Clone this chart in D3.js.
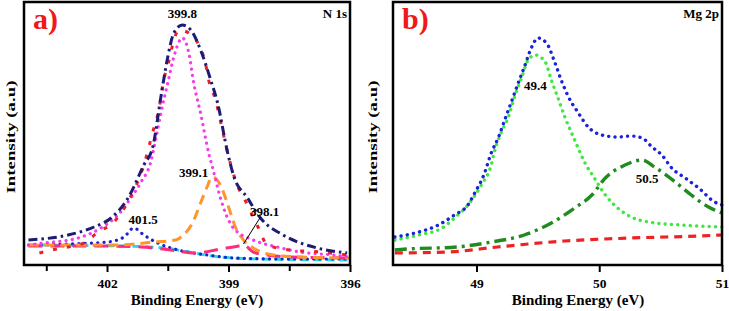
<!DOCTYPE html>
<html>
<head>
<meta charset="utf-8">
<script src="https://cdn.jsdelivr.net/npm/d3@7"></script>
<style>
  body { margin: 0; background: #fff; }
  svg { display: block; font-family: "Liberation Serif", "Times New Roman", serif; font-weight: bold; }
</style>
</head>
<body>
<svg id="chart" width="729" height="311"></svg>
<script>
// ---- a) N 1s : [binding energy (eV), intensity (a.u.)] ----
const n1sRaw = [[403.67,12],[403.25,16],[402.57,22],[402.22,33],[401.83,43],[401.46,65],[401.09,100],[400.87,133],[400.72,155],[400.60,185],[400.48,203],[400.38,220],[400.23,235],[399.98,232],[399.71,218],[399.57,202],[399.49,185],[399.32,165],[399.15,135],[399.02,112],[398.83,85],[398.53,60],[398.26,37],[398.04,20],[397.48,15],[396.74,13],[396.07,10]];
const n1sEnvelope = [[403.94,25],[402.96,30],[402.32,38],[401.90,47],[401.48,67],[401.09,100],[400.87,118],[400.67,168],[400.50,208],[400.35,232],[400.14,240],[399.93,235],[399.69,215],[399.44,185],[399.27,162],[399.02,112],[398.88,90],[398.53,67],[398.21,47],[397.65,30],[396.81,17],[396.07,12]];
const n1sPeak3998 = [[403.94,20],[403.55,22],[402.71,27],[402.15,37],[401.73,50],[401.41,67],[401.16,83],[400.92,103],[400.80,125],[400.67,152],[400.50,182],[400.35,208],[400.14,227],[399.98,212],[399.86,182],[399.69,152],[399.49,112],[399.39,97],[399.20,67],[398.88,37],[398.39,25],[397.80,18],[397.23,13],[396.42,10],[396.00,8]];
const n1sPeak3991 = [[403.94,20],[402.96,20],[401.73,20],[400.84,23],[400.30,25],[400.11,30],[399.89,42],[399.69,62],[399.54,77],[399.40,88],[399.20,80],[399.00,58],[398.83,38],[398.63,25],[398.39,17],[397.89,10],[397.23,8],[396.00,7]];
const n1sPeak4015 = [[403.94,20],[402.96,21],[401.98,23],[401.58,28],[401.34,37],[401.09,30],[400.75,22],[400.25,15],[399.52,10],[398.88,7],[397.65,6],[396.00,6]];
const n1sBackground = [[403.94,20],[401.66,19],[400.92,18],[400.43,16],[399.86,12],[399.20,8],[398.21,6],[396.00,5]];
const n1sPeak3981 = [[403.94,19],[402.15,19],[401.16,18],[400.43,15],[399.81,12],[399.20,16],[398.75,19],[398.63,20],[398.39,13],[398.04,10],[397.48,8],[396.00,7]];
const n1sTicks = [402, 399, 396];
const n1sMinorTicks = [403.5, 400.5, 397.5];
const n1sLabels = [["399.8",400.14,247],["399.1",399.86,88.5],["401.5",401.11,41],["398.1",398.11,49.5]];

// ---- b) Mg 2p ----
const mgEnvelope = [[48.335,28],[48.50,32],[48.69,40],[48.82,50],[48.93,60],[48.99,73],[49.06,90],[49.12,112],[49.18,128],[49.23,145],[49.29,165],[49.34,182],[49.39,198],[49.45,218],[49.50,227],[49.57,222],[49.64,202],[49.69,185],[49.75,168],[49.83,152],[49.91,138],[50.02,130],[50.15,128],[50.26,129],[50.35,127],[50.43,118],[50.51,110],[50.59,97],[50.70,87],[50.81,77],[50.94,63],[51.00,60]];
const mgPeak494 = [[48.335,25],[48.53,30],[48.72,37],[48.82,47],[48.93,60],[49.04,80],[49.12,100],[49.15,115],[49.20,132],[49.26,148],[49.31,168],[49.37,188],[49.42,205],[49.48,210],[49.56,203],[49.61,185],[49.67,165],[49.72,148],[49.80,125],[49.88,103],[49.96,87],[50.05,70],[50.15,57],[50.26,48],[50.40,43],[50.67,40],[51.00,38]];
const mgPeak505 = [[48.335,15],[48.44,16],[48.84,18],[49.12,23],[49.39,30],[49.61,42],[49.80,57],[49.94,70],[50.05,87],[50.21,100],[50.35,105],[50.45,98],[50.62,83],[50.75,70],[50.89,58],[51.00,52]];
const mgBackground = [[48.335,12],[48.77,13],[49.17,18],[49.72,24],[50.26,27],[50.81,29],[51.00,30]];
const mgTicks = [49, 50, 51];
const mgLabels = [["49.4",49.48,175.5],["50.5",50.39,82.5]];

const svg = d3.select("#chart");
const dot = "0.1,6.2";

function drawPanel(p) {
  const x = d3.scaleLinear().domain(p.xDomain).range([p.left, p.right]);
  const y = d3.scaleLinear().domain([0, 263]).range([265, 2]);
  const g = svg.append("g");

  const line = d3.line()
    .x(d => x(d[0]))
    .y(d => y(d[1]))
    .curve(d3.curveMonotoneX);

  p.series.forEach(s => {
    g.append("path")
      .attr("d", line(s.data))
      .attr("fill", "none")
      .attr("stroke", s.color)
      .attr("stroke-width", s.width)
      .attr("stroke-dasharray", s.dash)
      .attr("stroke-linecap", s.dash === dot ? "round" : "butt");
  });

  // frame
  g.append("rect")
    .attr("x", p.left).attr("y", 2)
    .attr("width", p.right - p.left).attr("height", 263)
    .attr("fill", "none").attr("stroke", "#000").attr("stroke-width", 2.5);

  // x axis
  const ax = g.append("g")
    .attr("transform", "translate(0,265)")
    .call(d3.axisBottom(x).tickValues(p.ticks).tickSize(7).tickSizeOuter(0).tickPadding(6).tickFormat(d3.format("d")))
    .attr("font-family", null).attr("font-size", 13.5);
  ax.select(".domain").remove();
  ax.selectAll("line").attr("stroke-width", 2);
  ax.selectAll("text").attr("fill", "#000");

  if (p.minor) {
    g.append("g")
      .attr("transform", "translate(0,265)")
      .call(d3.axisBottom(x).tickValues(p.minor).tickSize(6).tickSizeOuter(0).tickFormat(""))
      .call(a => a.select(".domain").remove())
      .selectAll("line").attr("stroke-width", 2);
  }

  g.append("text")
    .attr("x", p.xTitleX).attr("y", 305)
    .attr("text-anchor", "middle").attr("font-size", 15)
    .text("Binding Energy (eV)");

  g.append("text")
    .attr("transform", `translate(${p.yTitleX},137) rotate(-90)`)
    .attr("text-anchor", "middle").attr("font-size", 13)
    .attr("textLength", 113).attr("lengthAdjust", "spacingAndGlyphs")
    .text("Intensity (a.u)");

  g.append("text")
    .attr("x", p.left + 9).attr("y", 29)
    .attr("font-size", 30).attr("fill", "#f01818")
    .text(p.tag);

  g.append("text")
    .attr("x", p.right - 3).attr("y", 18)
    .attr("text-anchor", "end").attr("font-size", 13)
    .text(p.name);

  p.labels.forEach(l => {
    g.append("text")
      .attr("x", x(l[1])).attr("y", y(l[2]))
      .attr("text-anchor", "middle").attr("font-size", 13)
      .text(l[0]);
  });

  if (p.leader) {
    g.append("line")
      .attr("x1", x(p.leader[0][0])).attr("y1", y(p.leader[0][1]))
      .attr("x2", x(p.leader[1][0])).attr("y2", y(p.leader[1][1]))
      .attr("stroke", "#000").attr("stroke-width", 1);
  }
}

drawPanel({
  left: 24, right: 350, xDomain: [404.05, 396],
  ticks: n1sTicks, minor: n1sMinorTicks,
  xTitleX: 197, yTitleX: 15, tag: "a)", name: "N 1s",
  labels: n1sLabels,
  leader: [[398.21, 48], [398.63, 21]],
  series: [
    { data: n1sBackground, color: "#22dde8", width: 3, dash: "8,5" },
    { data: n1sPeak4015, color: "#1c22d4", width: 3.2, dash: dot },
    { data: n1sPeak3981, color: "#ff2c7c", width: 3, dash: "14,8" },
    { data: n1sPeak3991, color: "#ff962c", width: 3, dash: "10,6" },
    { data: n1sPeak3998, color: "#f43cee", width: 3.2, dash: dot },
    { data: n1sRaw, color: "#ec1f26", width: 3, dash: "4,10" },
    { data: n1sEnvelope, color: "#1c1c74", width: 3, dash: "9,4,2.5,4" }
  ]
});

drawPanel({
  left: 393, right: 722, xDomain: [48.32, 51],
  ticks: mgTicks, minor: null,
  xTitleX: 578, yTitleX: 377, tag: "b)", name: "Mg 2p",
  labels: mgLabels,
  leader: null,
  series: [
    { data: mgBackground, color: "#ee2222", width: 3.2, dash: "8,6" },
    { data: mgPeak505, color: "#1e8c1e", width: 3.4, dash: "12,5,3,5" },
    { data: mgPeak494, color: "#3ee83e", width: 3.4, dash: dot },
    { data: mgEnvelope, color: "#1c22dc", width: 3.4, dash: dot }
  ]
});
</script>
</body>
</html>
